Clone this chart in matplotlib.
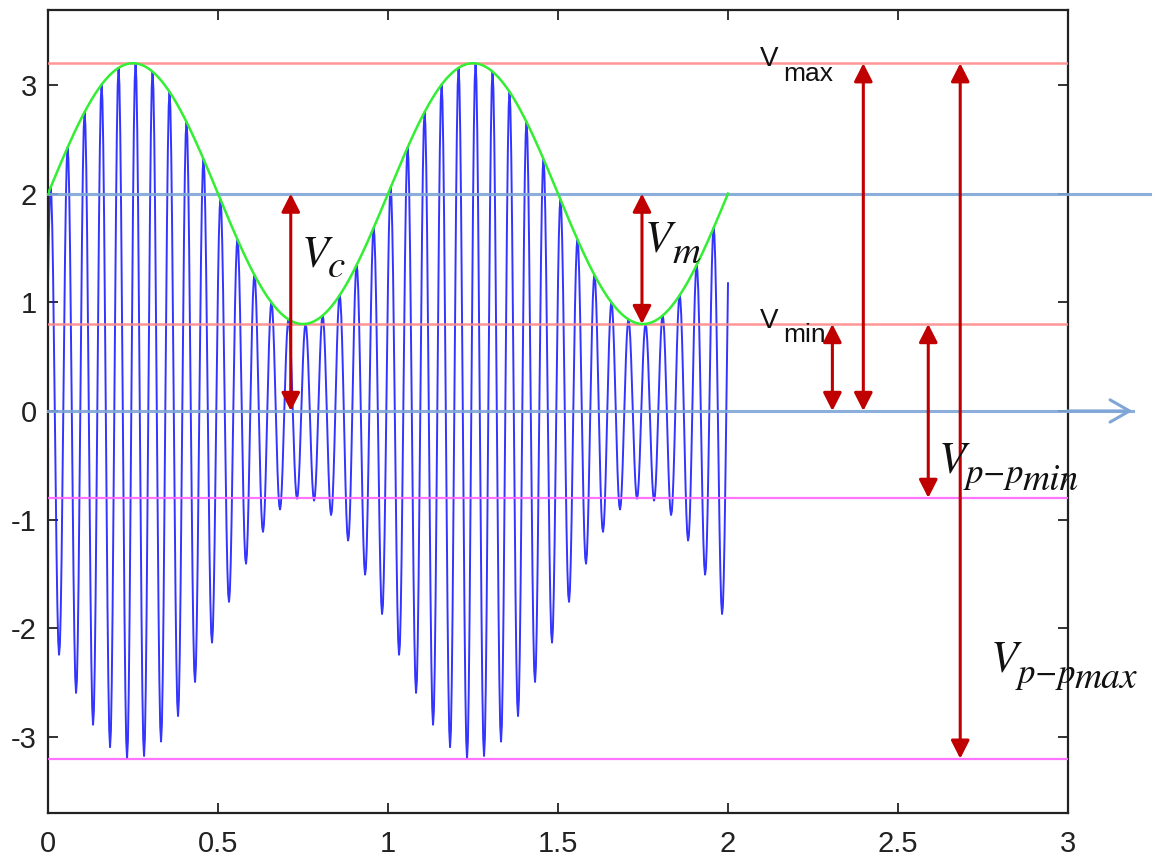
import numpy as np
import matplotlib
matplotlib.use("Agg")
import matplotlib.pyplot as plt
from matplotlib.patches import ArrowStyle

# ---------------- data ----------------
carrier_amplitude = 2.0        # V_c
modulation_amplitude = 1.2     # V_m
carrier_freq = 20.0            # carrier cycles per unit time
modulation_freq = 1.0          # envelope cycles per unit time
carrier_peak_time = 0.0075     # first carrier peak
sample_step = 0.0025
t_end = 2.0

red_levels = [3.2, 0.8]        # V_max, V_min
magenta_levels = [-0.8, -3.2]  # -V_min, -V_max
blue_levels = [2.0, 0.0]       # carrier level, zero axis

arrow_top = [2.0, 2.0, 0.8, 3.2, 0.8, 3.2]
arrow_bottom = [0.0, 0.8, 0.0, 0.0, -0.8, -3.2]

xticks = [0, 0.5, 1, 1.5, 2, 2.5, 3]
xtick_labels = ["0", "0.5", "1", "1.5", "2", "2.5", "3"]
yticks = [-3, -2, -1, 0, 1, 2, 3]
ytick_labels = ["-3", "-2", "-1", "0", "1", "2", "3"]

# ---------------- figure ----------------
plt.rcParams["axes.unicode_minus"] = False
plt.rcParams["mathtext.fontset"] = "stix"
plt.rcParams["font.family"] = ["Liberation Sans", "DejaVu Sans"]

fig = plt.figure(figsize=(11.56, 8.57), dpi=100)
ax = fig.add_axes([48 / 1156, 44 / 857, 1020 / 1156, 803 / 857])
ax.set_xlim(0, 3)
ax.set_ylim(-3.7, 3.69)

t = np.arange(0, t_end + sample_step / 2, sample_step)
env_s = carrier_amplitude + modulation_amplitude * np.sin(2 * np.pi * modulation_freq * t)
signal = env_s * np.cos(2 * np.pi * carrier_freq * (t - carrier_peak_time))

t_fine = np.linspace(0, t_end, 800)
envelope = carrier_amplitude + modulation_amplitude * np.sin(2 * np.pi * modulation_freq * t_fine)

# signal
ax.plot(t, signal, color="#1010FF", lw=1.4, alpha=0.85, zorder=2)

# horizontal reference lines
for lv in red_levels:
    ax.plot([0, 3], [lv, lv], color="#FF8A8A", lw=1.8, alpha=0.9, zorder=3)
for lv in magenta_levels:
    ax.plot([0, 3], [lv, lv], color="#FF66FF", lw=1.6, alpha=0.9, zorder=3)
blue_ref = "#7FA6D6"
ax.plot([0, 3.24], [blue_levels[0]] * 2, color=blue_ref, lw=2.2, alpha=0.9,
        clip_on=False, zorder=3)
ax.plot([0, 3.19], [blue_levels[1]] * 2, color=blue_ref, lw=2.2, alpha=0.9,
        clip_on=False, zorder=3)
ax.annotate("", xy=(3.19, blue_levels[1]), xytext=(3.0, blue_levels[1]),
            arrowprops=dict(arrowstyle=ArrowStyle("->", head_length=0.7, head_width=0.4),
                            mutation_scale=20, color=blue_ref, lw=2.2,
                            shrinkA=0, shrinkB=0),
            annotation_clip=False)

# envelope
ax.plot(t_fine, envelope, color="#33EE33", lw=1.8, zorder=4)

# red double arrows
arrow_x = [0.714, 1.747, 2.307, 2.398, 2.589, 2.683]
for x, y0, y1 in zip(arrow_x, arrow_top, arrow_bottom):
    ax.annotate("", xy=(x, y1), xytext=(x, y0),
                arrowprops=dict(arrowstyle=ArrowStyle("<|-|>", head_length=0.55, head_width=0.28),
                                mutation_scale=20, color="#C00000", lw=2.2,
                                shrinkA=0, shrinkB=0),
                zorder=5)

# labels
tc = "#111111"
def lab(x, y, s, size):
    ax.text(x, y, s, fontsize=size, color=tc, ha="left", va="baseline",
            family="STIXGeneral", style="italic", zorder=6)

lab(0.745, 1.325, "V", 32)
lab(0.822, 1.233, "c", 28)
lab(1.754, 1.463, "V", 32)
lab(1.838, 1.362, "m", 28)
lab(2.620, -0.570, "V", 32)
lab(2.700, -0.662, "p\u2212p", 25)
lab(2.866, -0.727, "min", 27)
lab(2.772, -2.401, "V", 32)
lab(2.852, -2.502, "p\u2212p", 25)
lab(3.018, -2.548, "max", 27)

ax.text(2.095, 3.174, "V", fontsize=20, color=tc, ha="left", va="baseline")
ax.text(2.162, 3.036, "max", fontsize=19, color=tc, ha="left", va="baseline")
ax.text(2.095, 0.764, "V", fontsize=20, color=tc, ha="left", va="baseline")
ax.text(2.162, 0.635, "min", fontsize=19, color=tc, ha="left", va="baseline")

# axes styling
ax.set_xticks(xticks)
ax.set_xticklabels(xtick_labels)
ax.set_yticks(yticks)
ax.set_yticklabels(ytick_labels)
ax.tick_params(direction="in", top=True, right=True, length=7, width=1.3,
               labelsize=21, colors="#222222")
ax.tick_params(axis="x", pad=12)
ax.tick_params(axis="y", pad=8)
for sp in ax.spines.values():
    sp.set_linewidth(1.6)
    sp.set_color("#222222")

fig.savefig("out.png", dpi=100)
